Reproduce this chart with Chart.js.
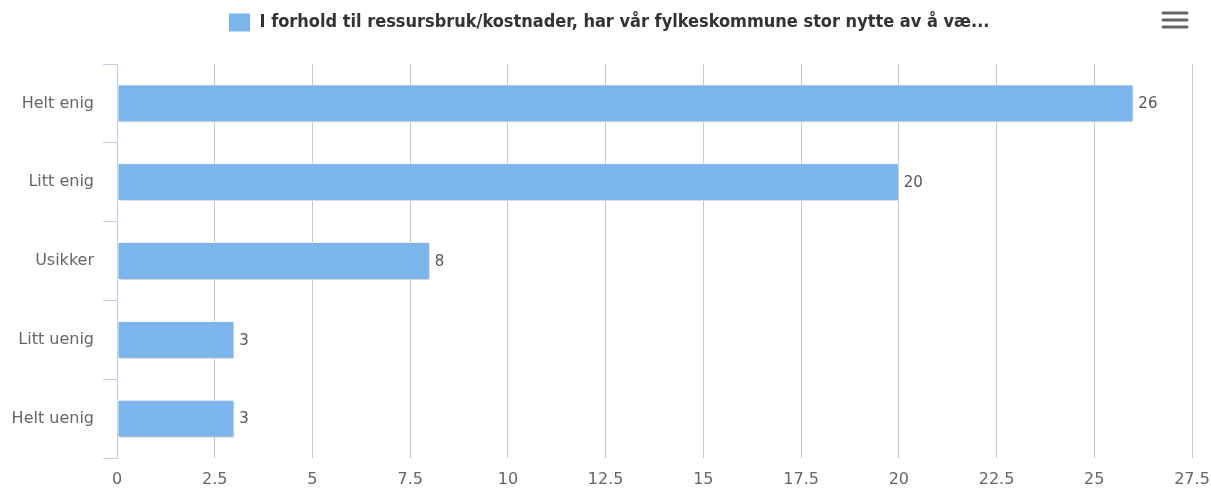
<!DOCTYPE html>
<html lang="no">
<head>
    <meta charset="UTF-8">
    <title>Ressursbruk/kostnader</title>
    <script src="https://cdn.jsdelivr.net/npm/chart.js"></script>
    <style>
        body { margin: 0; background: #fff; }
        #wrap { width: 1211px; height: 490px; }
    </style>
</head>
<body>
    <div id="wrap"><canvas id="barChart"></canvas></div>
    <script>
        var categories = ['Helt enig', 'Litt enig', 'Usikker', 'Litt uenig', 'Helt uenig'];
        var answers = [26, 20, 8, 3, 3];
        var seriesName = 'I forhold til ressursbruk/kostnader, har vår fylkeskommune stor nytte av å væ...';
        var xTicks = [0, 2.5, 5, 7.5, 10, 12.5, 15, 17.5, 20, 22.5, 25, 27.5];

        // push the plot down below the legend, and nudge the legend to the right
        var legendGap = {
            id: 'legendGap',
            beforeUpdate: function(chart) {
                if (!chart.legend || chart.legend._gapPatched) return;
                var origFit = chart.legend.fit;
                chart.legend.fit = function() {
                    origFit.call(this);
                    this.height += 22;
                };
                chart.legend._gapPatched = true;
            },
            afterLayout: function(chart) {
                chart.legend.left += 13;
                chart.legend.right += 13;
            }
        };

        // shadow under the bars, like the original
        var barShadow = {
            id: 'barShadow',
            beforeDatasetsDraw: function(chart) {
                var c = chart.ctx;
                c.save();
                c.shadowColor = 'rgba(0,0,0,0.3)';
                c.shadowOffsetX = 1;
                c.shadowOffsetY = 1;
                c.shadowBlur = 3;
            },
            afterDatasetsDraw: function(chart) {
                chart.ctx.restore();
            }
        };

        // value labels at the end of each bar
        var valueLabels = {
            id: 'valueLabels',
            afterDraw: function(chart) {
                var c = chart.ctx;
                var meta = chart.getDatasetMeta(0);
                c.save();
                c.font = '15px "DejaVu Sans"';
                c.fillStyle = '#555';
                c.textBaseline = 'middle';
                meta.data.forEach(function(bar, i) {
                    c.fillText(answers[i], bar.x + 5, bar.y + 1);
                });
                c.restore();
            }
        };

        // the little menu icon top right
        var menuIcon = {
            id: 'menuIcon',
            afterDraw: function(chart) {
                var c = chart.ctx;
                c.save();
                c.strokeStyle = '#666';
                c.lineWidth = 3;
                c.lineCap = 'round';
                [13, 20, 27].forEach(function(y) {
                    c.beginPath();
                    c.moveTo(1163, y);
                    c.lineTo(1187, y);
                    c.stroke();
                });
                c.restore();
            }
        };

        var ctx = document.getElementById('barChart').getContext('2d');
        var barChart = new Chart(ctx, {
            type: 'bar',
            data: {
                labels: categories,
                datasets: [{
                    label: seriesName,
                    data: answers,
                    backgroundColor: '#7cb5ec',
                    borderColor: '#ffffff',
                    borderWidth: 1,
                    borderSkipped: false,
                    barPercentage: 0.48,
                    categoryPercentage: 1
                }]
            },
            options: {
                indexAxis: 'y',
                responsive: true,
                maintainAspectRatio: false,
                animation: false,
                layout: { padding: { left: 0, right: 19, top: 0, bottom: 0 } },
                plugins: {
                    tooltip: { enabled: false },
                    legend: {
                        position: 'top',
                        onClick: null,
                        labels: {
                            boxWidth: 22,
                            boxHeight: 19,
                            padding: 13,
                            color: '#333',
                            font: { family: '"DejaVu Sans Condensed", "DejaVu Sans"', size: 18, weight: 'bold' }
                        }
                    }
                },
                scales: {
                    x: {
                        min: 0,
                        max: 27.5,
                        afterBuildTicks: function(axis) {
                            axis.ticks = xTicks.map(function(v) { return { value: v }; });
                        },
                        afterFit: function(axis) {
                            axis.height = 32;
                            axis.paddingLeft = 0;
                            axis.paddingRight = 0;
                        },
                        grid: { color: '#c8c8c8', drawTicks: false },
                        border: { display: false },
                        ticks: {
                            padding: 12,
                            color: '#666',
                            font: { family: '"DejaVu Sans"', size: 16 }
                        }
                    },
                    y: {
                        afterFit: function(axis) {
                            axis.width = 117;
                        },
                        grid: { drawOnChartArea: false, color: '#c0cde6', tickLength: 14 },
                        border: { color: '#c0cde6' },
                        ticks: {
                            padding: 9,
                            color: '#666',
                            font: { family: '"DejaVu Sans"', size: 16 }
                        }
                    }
                }
            },
            plugins: [legendGap, barShadow, valueLabels, menuIcon]
        });
    </script>
</body>
</html>
